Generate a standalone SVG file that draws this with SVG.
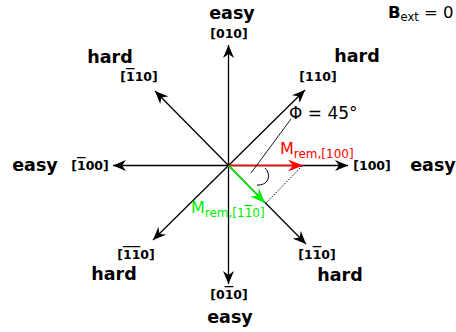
<svg xmlns="http://www.w3.org/2000/svg" width="456" height="332" viewBox="0 0 456 332">
<style>
.lbl{font-family:"DejaVu Sans",sans-serif;font-weight:bold;fill:#000}
.big{font-size:17.5px}
.idx{font-size:12.5px}
.ob{text-decoration:overline}
.ax{stroke:#000;stroke-width:1.3;fill:none}
.txt{font-family:"DejaVu Sans",sans-serif}
</style>
<defs>
<marker id="ah" viewBox="-13 -6 14 12" refX="0" refY="0" markerWidth="14" markerHeight="12" markerUnits="userSpaceOnUse" orient="auto">
<path d="M0,0 L-13,-5.5 L-9,0 L-13,5.5 z" fill="#000"/>
</marker>
<marker id="ahr" viewBox="-15 -6 16 12" refX="0" refY="0" markerWidth="16" markerHeight="12" markerUnits="userSpaceOnUse" orient="auto">
<path d="M0,0 L-15,-6 L-10,0 L-15,6 z" fill="#ff0000"/>
</marker>
<marker id="ahg" viewBox="-15 -6 16 12" refX="0" refY="0" markerWidth="16" markerHeight="12" markerUnits="userSpaceOnUse" orient="auto">
<path d="M0,0 L-15,-6 L-10,0 L-15,6 z" fill="#00ee00"/>
</marker>
</defs>
<g id="connectors">
<line class="ax" x1="228.5" y1="165.5" x2="228.5" y2="45" marker-end="url(#ah)"/>
<line class="ax" x1="228.5" y1="165.5" x2="228.5" y2="284" marker-end="url(#ah)"/>
<line class="ax" x1="228.5" y1="165.5" x2="113" y2="165.5" marker-end="url(#ah)"/>
<line class="ax" x1="228.5" y1="165.5" x2="348" y2="165.5" marker-end="url(#ah)"/>
<line class="ax" x1="228.5" y1="165.5" x2="305" y2="90" marker-end="url(#ah)"/>
<line class="ax" x1="228.5" y1="165.5" x2="155" y2="91" marker-end="url(#ah)"/>
<line class="ax" x1="228.5" y1="165.5" x2="153" y2="240" marker-end="url(#ah)"/>
<line class="ax" x1="228.5" y1="165.5" x2="306" y2="244" marker-end="url(#ah)"/>
<line x1="228.5" y1="165.5" x2="303" y2="165.5" stroke="#ff0000" stroke-width="1.6" marker-end="url(#ahr)"/>
<line x1="228.5" y1="165.5" x2="265" y2="203" stroke="#00ee00" stroke-width="1.6" marker-end="url(#ahg)"/>
<line x1="302" y1="166" x2="266" y2="203" stroke="#000" stroke-width="1" stroke-dasharray="1.5,1.5"/>
<path d="M265,168 C272,175 268,186 257,185" fill="none" stroke="#000" stroke-width="1"/>
<line x1="291" y1="119" x2="251" y2="173" stroke="#000" stroke-width="0.9"/>
</g>
<g id="n010">
<text class="lbl big" x="232" y="19" text-anchor="middle">easy</text>
<text class="lbl idx" x="229" y="38" text-anchor="middle">[010]</text>
</g>
<g id="n-110">
<text class="lbl big" x="110" y="63" text-anchor="middle">hard</text>
<text class="lbl idx" x="139" y="81" text-anchor="middle">[<tspan class="ob">1</tspan>10]</text>
</g>
<g id="n110">
<text class="lbl big" x="357" y="62" text-anchor="middle">hard</text>
<text class="lbl idx" x="318" y="81" text-anchor="middle">[110]</text>
</g>
<g id="n-100">
<text class="lbl big" x="35" y="171" text-anchor="middle">easy</text>
<text class="lbl idx" x="90" y="170" text-anchor="middle">[<tspan class="ob">1</tspan>00]</text>
</g>
<g id="n100">
<text class="lbl idx" x="372" y="170" text-anchor="middle">[100]</text>
<text class="lbl big" x="433" y="171" text-anchor="middle">easy</text>
</g>
<g id="n-1-10">
<text class="lbl idx" x="136" y="259" text-anchor="middle">[<tspan class="ob">1</tspan><tspan class="ob">1</tspan>0]</text>
<text class="lbl big" x="114" y="280" text-anchor="middle">hard</text>
</g>
<g id="n1-10">
<text class="lbl idx" x="317" y="259" text-anchor="middle">[1<tspan class="ob">1</tspan>0]</text>
<text class="lbl big" x="340" y="281" text-anchor="middle">hard</text>
</g>
<g id="n0-10">
<text class="lbl idx" x="229" y="299" text-anchor="middle">[0<tspan class="ob">1</tspan>0]</text>
<text class="lbl big" x="230" y="323" text-anchor="middle">easy</text>
</g>
<g id="phi">
<text class="txt" x="289" y="119" font-size="17" fill="#000">Φ = 45°</text>
</g>
<g id="mrem100">
<text class="txt" x="280" y="154" font-size="16" fill="#ff0000">M<tspan font-size="12" dy="4">rem,[100]</tspan></text>
</g>
<g id="mrem1-10">
<text class="txt" x="191" y="213" font-size="16" fill="#00ee00">M<tspan font-size="12" dy="4">rem,[1<tspan class="ob">1</tspan>0]</tspan></text>
</g>
<g id="bext">
<text class="txt" x="388" y="18" font-size="16.5" fill="#000"><tspan font-weight="bold">B</tspan><tspan font-size="11.5" dy="3">ext</tspan><tspan dy="-3"> = 0</tspan></text>
</g>
</svg>
